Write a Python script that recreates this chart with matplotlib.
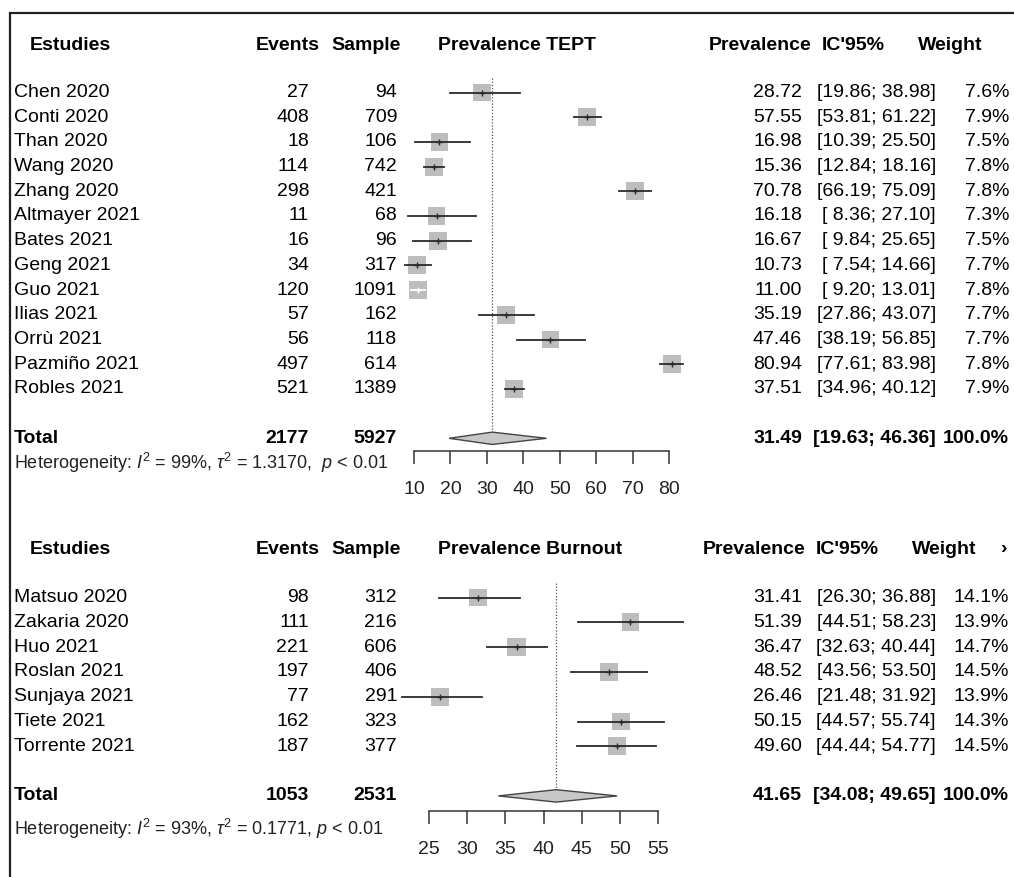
import numpy as np
import matplotlib.pyplot as plt
from matplotlib.patches import Polygon

# datos panel TEPT
tept_names = ['Chen 2020', 'Conti 2020', 'Than 2020', 'Wang 2020', 'Zhang 2020',
              'Altmayer 2021', 'Bates 2021', 'Geng 2021', 'Guo 2021', 'Ilias 2021',
              'Orrù 2021', 'Pazmiño 2021', 'Robles 2021']
tept_events = [27, 408, 18, 114, 298, 11, 16, 34, 120, 57, 56, 497, 521]
tept_sample = [94, 709, 106, 742, 421, 68, 96, 317, 1091, 162, 118, 614, 1389]
tept_prev = [28.72, 57.55, 16.98, 15.36, 70.78, 16.18, 16.67, 10.73, 11.00, 35.19, 47.46, 80.94, 37.51]
tept_lo = [19.86, 53.81, 10.39, 12.84, 66.19, 8.36, 9.84, 7.54, 9.20, 27.86, 38.19, 77.61, 34.96]
tept_hi = [38.98, 61.22, 25.50, 18.16, 75.09, 27.10, 25.65, 14.66, 13.01, 43.07, 56.85, 83.98, 40.12]
tept_weight = [7.6, 7.9, 7.5, 7.8, 7.8, 7.3, 7.5, 7.7, 7.8, 7.7, 7.7, 7.8, 7.9]
tept_total = dict(events=2177, sample=5927, prev=31.49, lo=19.63, hi=46.36)
tept_het = r'Heterogeneity: $I^2$ = 99%, $\tau^2$ = 1.3170,  $p$ < 0.01'
tept_ticks = [10, 20, 30, 40, 50, 60, 70, 80]

# datos panel Burnout
burn_names = ['Matsuo 2020', 'Zakaria 2020', 'Huo 2021', 'Roslan 2021',
              'Sunjaya 2021', 'Tiete 2021', 'Torrente 2021']
burn_events = [98, 111, 221, 197, 77, 162, 187]
burn_sample = [312, 216, 606, 406, 291, 323, 377]
burn_prev = [31.41, 51.39, 36.47, 48.52, 26.46, 50.15, 49.60]
burn_lo = [26.30, 44.51, 32.63, 43.56, 21.48, 44.57, 44.44]
burn_hi = [36.88, 58.23, 40.44, 53.50, 31.92, 55.74, 54.77]
burn_weight = [14.1, 13.9, 14.7, 14.5, 13.9, 14.3, 14.5]
burn_total = dict(events=1053, sample=2531, prev=41.65, lo=34.08, hi=49.65)
burn_het = r'Heterogeneity: $I^2$ = 93%, $\tau^2$ = 0.1771, $p$ < 0.01'
burn_ticks = [25, 30, 35, 40, 45, 50, 55]

plt.rcParams['font.family'] = ['Liberation Sans', 'DejaVu Sans']
plt.rcParams['mathtext.fontset'] = 'custom'
plt.rcParams['mathtext.rm'] = 'Liberation Sans'
plt.rcParams['mathtext.it'] = 'Liberation Sans:italic'

W, H = 1014, 877
fig = plt.figure(figsize=(W / 100, H / 100), dpi=100)
bg = fig.add_axes([0, 0, 1, 1])
bg.set_xlim(0, W)
bg.set_ylim(H, 0)
bg.axis('off')

# marco
bg.plot([10, 10, W], [H, 13, 13], color='#222222', lw=1.6, solid_joinstyle='miter')

FS = 14
BOX = 170


def panel(names, events, sample, prev, lo, hi, weight, total, het, ticks, title,
          head_y, row0, dy, axis_y, px0, px1, het_y, hx, arrow=False):
    n = len(names)
    rows = np.arange(n)
    trow = n + 1
    ypix = lambda r: row0 + r * dy

    # encabezados
    bg.text(30, head_y, 'Estudies', fontsize=FS, weight='bold', va='center')
    bg.text(320, head_y, 'Events', fontsize=FS, weight='bold', va='center', ha='right')
    bg.text(401, head_y, 'Sample', fontsize=FS, weight='bold', va='center', ha='right')
    bg.text(438, head_y, title, fontsize=FS, weight='bold', va='center')
    bg.text(hx[0], head_y, 'Prevalence', fontsize=FS, weight='bold', va='center', ha='right')
    bg.text(hx[1], head_y, "IC'95%", fontsize=FS, weight='bold', va='center')
    bg.text(hx[2], head_y, 'Weight', fontsize=FS, weight='bold', va='center', ha='right')
    if arrow:
        bg.text(1000, head_y, '›', fontsize=FS, weight='bold', va='center')

    for i in rows:
        y = ypix(i)
        bg.text(14, y, names[i], fontsize=FS, va='center')
        bg.text(309, y, str(events[i]), fontsize=FS, va='center', ha='right')
        bg.text(397, y, str(sample[i]), fontsize=FS, va='center', ha='right')
        bg.text(802, y, f'{prev[i]:.2f}', fontsize=FS, va='center', ha='right')
        bg.text(936, y, f'[{lo[i]:5.2f}; {hi[i]:5.2f}]', fontsize=FS, va='center', ha='right')
        bg.text(1009, y, f'{weight[i]:.1f}%', fontsize=FS, va='center', ha='right')

    y = ypix(trow)
    bg.text(14, y, 'Total', fontsize=FS, weight='bold', va='center')
    bg.text(309, y, str(total['events']), fontsize=FS, weight='bold', va='center', ha='right')
    bg.text(397, y, str(total['sample']), fontsize=FS, weight='bold', va='center', ha='right')
    bg.text(802, y, f"{total['prev']:.2f}", fontsize=FS, weight='bold', va='center', ha='right')
    bg.text(936, y, f"[{total['lo']:5.2f}; {total['hi']:5.2f}]", fontsize=FS, weight='bold',
            va='center', ha='right')
    bg.text(1009, y, '100.0%', fontsize=FS, weight='bold', va='center', ha='right')
    bg.text(14, het_y, het, fontsize=13, va='center', color='#222222')

    # eje del forest
    left, right = 360, 700
    top = head_y + 18
    t0, t1 = ticks[0], ticks[-1]
    scale = (t1 - t0) / (px1 - px0)
    ax = fig.add_axes([left / W, 1 - axis_y / H, (right - left) / W, (axis_y - top) / H])
    ax.patch.set_alpha(0)
    ax.set_xlim(t0 + (left - px0) * scale, t0 + (right - px0) * scale)
    ax.set_ylim((axis_y - row0) / dy, (top - row0) / dy)
    for s in ['top', 'left', 'right']:
        ax.spines[s].set_visible(False)
    ax.spines['bottom'].set_bounds(t0, t1)
    ax.spines['bottom'].set_color('#333333')
    ax.spines['bottom'].set_linewidth(1.1)
    ax.set_xticks(ticks)
    ax.set_yticks([])
    ax.tick_params(axis='x', direction='out', length=9.5, width=1.1, color='#333333',
                   labelsize=14, pad=12, labelcolor='#222222')

    wmax = max(weight)
    sizes = [BOX * w / wmax for w in weight]
    ax.scatter(prev, rows, s=sizes, marker='s', color='#bdbdbd', linewidths=0, zorder=2)
    half = np.sqrt(BOX) * 100 / 72 / 2 * scale
    for i in rows:
        inside = (prev[i] - lo[i] < half) and (hi[i] - prev[i] < half)
        col = 'white' if inside else '#2a2a2a'
        ax.plot([lo[i], hi[i]], [i, i], color=col, lw=1.3, zorder=3)
        ax.plot(prev[i], i, marker='+', ms=4, mew=1, color=col, zorder=4)

    ax.vlines(total['prev'], -0.6, trow - 0.27, colors='#555555', lw=0.9,
              linestyles=(0, (1, 1.5)), zorder=1)
    d = Polygon([(total['lo'], trow), (total['prev'], trow - 0.25),
                 (total['hi'], trow), (total['prev'], trow + 0.25)],
                closed=True, facecolor='#c8c8c8', edgecolor='#444444', lw=1, zorder=3)
    ax.add_patch(d)


panel(tept_names, tept_events, tept_sample, tept_prev, tept_lo, tept_hi, tept_weight,
      tept_total, tept_het, tept_ticks, 'Prevalence TEPT',
      head_y=46, row0=92.5, dy=24.7, axis_y=451, px0=414, px1=669, het_y=463,
      hx=(812, 822, 982))

panel(burn_names, burn_events, burn_sample, burn_prev, burn_lo, burn_hi, burn_weight,
      burn_total, burn_het, burn_ticks, 'Prevalence Burnout',
      head_y=549, row0=597.5, dy=24.8, axis_y=811, px0=429, px1=658, het_y=829,
      hx=(806, 816, 976), arrow=True)

fig.savefig('out.png', dpi=100)
